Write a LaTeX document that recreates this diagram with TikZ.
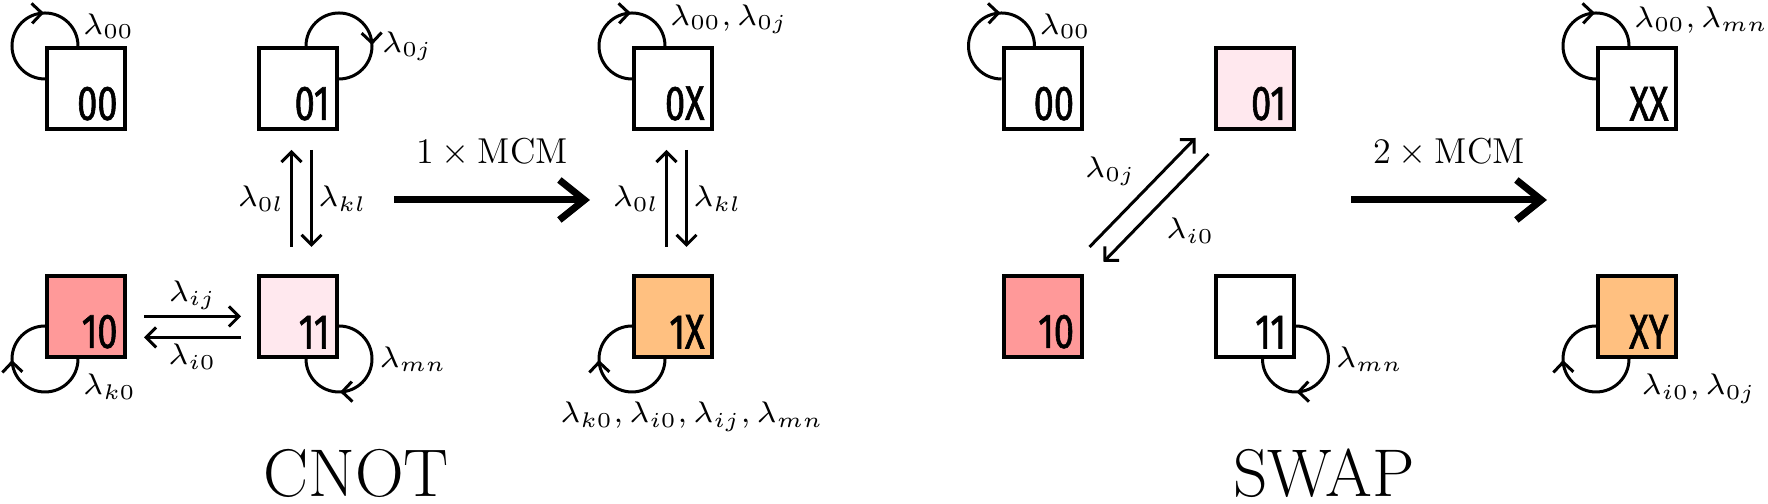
\documentclass[tikz,border=0pt]{standalone}
\usepackage{amsmath}
\usepackage{fontspec}
\usepackage{tikz}
\usetikzlibrary{arrows.meta,positioning,calc,decorations.markings}
\newfontfamily\statefont[FakeStretch=0.74, FakeBold=1.2]{Fira Sans}
\definecolor{flipped}{RGB}{255,153,153}
\definecolor{touched}{RGB}{255,232,238}
\definecolor{merged}{RGB}{255,192,128}

\begin{document}
\begin{tikzpicture}[
  x=0.4pt, y=0.4pt,
  node distance=57.2pt and 52pt,
  qstate/.style={draw, line width=1.6pt, minimum width=31.2pt, minimum height=32.4pt,
    inner sep=0pt, label={[statetext]south east:#1}},
  statetext/.style={anchor=south east, inner sep=0pt, xshift=-3.6pt, yshift=4pt,
    font=\statefont\fontsize{19.5}{19.5}\selectfont},
  selfloop/.style={line width=1.2pt, decoration={markings,
      mark=at position 0.66 with {\arrow{Straight Barb[length=4pt,width=8pt]}}},
    postaction={decorate}},
  trans/.style={-{Straight Barb[length=4pt,width=8pt]}, line width=1.2pt},
  rate/.style={font=\scriptsize, scale=1.7, inner sep=1pt},
  mcm/.style={-{Straight Barb[length=10pt,width=16pt]}, line width=2.8pt},
  gate/.style={font=\fontsize{27}{30}\selectfont, anchor=base, inner sep=0pt}
]
\useasboundingbox (0,0) rectangle (1768,504);

% CNOT
\node[qstate=00] (c00) at (86,415.5) {};
\node[qstate=01, right=of c00] (c01) {};
\node[qstate=10, fill=flipped, below=of c00] (c10) {};
\node[qstate=11, fill=touched, below=of c01] (c11) {};

\draw[selfloop] ([yshift=-13.2pt]c00.north west) arc[start angle=-90, end angle=-360, radius=13.2pt];
\draw[selfloop] ([xshift=-13.2pt]c01.north east) arc[start angle=180, end angle=-90, radius=13.2pt];
\draw[selfloop] ([xshift=13.2pt]c10.south west) arc[start angle=0, end angle=-270, radius=13.2pt];
\draw[selfloop] ([yshift=13.2pt]c11.south east) arc[start angle=90, end angle=-180, radius=13.2pt];
\node[yshift=1pt, rate, anchor=south west] (l00) at ([xshift=13.2pt]c00.north west) {$\lambda_{00}$};
\node[xshift=2pt, rate, anchor=west] (l01) at ([xshift=13.2pt]c01.north east) {$\lambda_{0j}$};
\node[yshift=-4pt, rate, anchor=north west] (l10) at ([xshift=13.2pt]c10.south west) {$\lambda_{k0}$};
\node[xshift=1pt, rate, anchor=west] (l11) at ([xshift=13.2pt]c11.south east) {$\lambda_{mn}$};

\draw[trans] ([xshift=-2.6pt, yshift=10.8pt]c11.north) -- ([xshift=-2.6pt, yshift=-7.6pt]c01.south)
  node[rate, midway, left] (l0l) {$\lambda_{0l}$};
\draw[trans] ([xshift=5.4pt, yshift=-7.6pt]c01.south) -- ([xshift=5.4pt, yshift=10.8pt]c11.north)
  node[rate, midway, right] (lkl) {$\lambda_{kl}$};
\draw[trans] ([xshift=6.8pt]c10.east) -- ([xshift=-6.4pt]c11.west)
  node[rate, midway, above] (lij) {$\lambda_{ij}$};
\draw[trans] ([xshift=-6.4pt, yshift=-8.4pt]c11.west) -- ([xshift=6.8pt, yshift=-8.4pt]c10.east)
  node[rate, midway, below] (li0) {$\lambda_{i0}$};

\coordinate (cmcmL) at (394,304);
\coordinate (cmcmR) at (590,304);
\draw[mcm] (cmcmL) -- (cmcmR) node[midway, above=12pt, inner sep=0pt, font=\Large] (cmcm) {$1\times\mathrm{MCM}$};

\node[qstate=0X] (c0X) at (673,415.5) {};
\node[qstate=1X, fill=merged, below=of c0X] (c1X) {};
\draw[selfloop] ([yshift=-13.2pt]c0X.north west) arc[start angle=-90, end angle=-360, radius=13.2pt];
\draw[selfloop] ([xshift=13.2pt]c1X.south west) arc[start angle=0, end angle=-270, radius=13.2pt];
\node[yshift=3pt, rate, anchor=south west] (l0X) at ([xshift=13.2pt]c0X.north west) {$\lambda_{00}, \lambda_{0j}$};
\node[xshift=7.6pt, yshift=-15.2pt, rate, anchor=north] (l1X) at (c1X.south) {$\lambda_{k0}, \lambda_{i0}, \lambda_{ij}, \lambda_{mn}$};
\draw[trans] ([xshift=-2.6pt, yshift=10.8pt]c1X.north) -- ([xshift=-2.6pt, yshift=-7.6pt]c0X.south)
  node[rate, midway, left] (x0l) {$\lambda_{0l}$};
\draw[trans] ([xshift=5.4pt, yshift=-7.6pt]c0X.south) -- ([xshift=5.4pt, yshift=10.8pt]c1X.north)
  node[rate, midway, right] (xkl) {$\lambda_{kl}$};

\node[gate] (cnot) at (356,7) {CNOT};

% SWAP
\node[qstate=00] (s00) at (1042.5,415.5) {};
\node[qstate=01, fill=touched, right=of s00] (s01) {};
\node[qstate=10, fill=flipped, below=of s00] (s10) {};
\node[qstate=11, below=of s01] (s11) {};

\draw[selfloop] ([yshift=-13.2pt]s00.north west) arc[start angle=-90, end angle=-360, radius=13.2pt];
\draw[selfloop] ([yshift=13.2pt]s11.south east) arc[start angle=90, end angle=-180, radius=13.2pt];
\node[yshift=1pt, rate, anchor=south west] (m00) at ([xshift=13.2pt]s00.north west) {$\lambda_{00}$};
\node[xshift=1pt, rate, anchor=west] (m11) at ([xshift=13.2pt]s11.south east) {$\lambda_{mn}$};

\draw[trans] ([xshift=2.4pt, yshift=10.8pt]s10.north east) -- ([xshift=-7.2pt, yshift=-2.8pt]s01.south west)
  node[rate, midway, above left] (m0j) {$\lambda_{0j}$};
\draw[trans] ([xshift=-2pt, yshift=-9.2pt]s01.south west) -- ([xshift=8pt, yshift=4.8pt]s10.north east)
  node[rate, midway, below right=2pt] (mi0) {$\lambda_{i0}$};

\coordinate (smcmL) at (1351,304);
\coordinate (smcmR) at (1547,304);
\draw[mcm] (smcmL) -- (smcmR) node[midway, above=12pt, inner sep=0pt, font=\Large] (smcm) {$2\times\mathrm{MCM}$};

\node[qstate=XX] (sXX) at (1637,415.5) {};
\node[qstate=XY, fill=merged, below=of sXX] (sXY) {};
\draw[selfloop] ([yshift=-13.2pt]sXX.north west) arc[start angle=-90, end angle=-360, radius=13.2pt];
\draw[selfloop] ([xshift=13.2pt]sXY.south west) arc[start angle=0, end angle=-270, radius=13.2pt];
\node[yshift=3pt, rate, anchor=south west] (lXX) at ([xshift=13.2pt]sXX.north west) {$\lambda_{00}, \lambda_{mn}$};
\node[xshift=3pt, yshift=-4pt, rate, anchor=north west] (lXY) at ([xshift=13.2pt]sXY.south west) {$\lambda_{i0}, \lambda_{0j}$};

\node[gate] (swap) at (1324,7) {SWAP};
\end{tikzpicture}
\end{document}
